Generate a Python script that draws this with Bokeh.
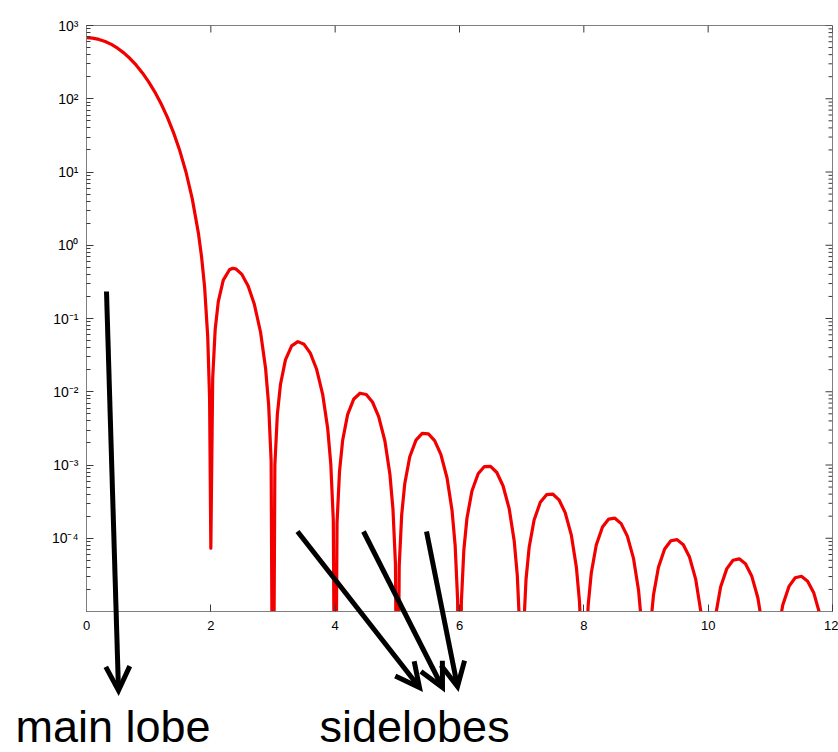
from bokeh.plotting import figure
from bokeh.models import FixedTicker, Range1d, Arrow, OpenHead, Label
from bokeh.layouts import column
from bokeh.embed import file_html
from bokeh.resources import INLINE

# ---------------- data ----------------
# main lobe (0 .. 2)
freq_main = [0.0, 0.1, 0.2, 0.3, 0.4, 0.5, 0.6, 0.7, 0.8, 0.9, 1.0, 1.1, 1.2,
             1.3, 1.4, 1.5, 1.6, 1.7, 1.8, 1.85, 1.9, 1.95, 1.98, 2.0]
power_main = [680.0, 671.3, 645.7, 605.1, 552.0, 489.9, 422.6, 353.8, 287.0,
              225.0, 170.0, 123.3, 85.39, 56.05, 34.50, 19.60, 10.00, 4.368,
              1.464, 0.7070, 0.2675, 0.05646, 0.008124, 7.3e-5]

# sidelobes (2 .. 12)
freq_side = [
    2.03, 2.07, 2.12, 2.2, 2.3, 2.35, 2.4, 2.5, 2.6, 2.7, 2.8, 2.88, 2.93, 2.97, 3.0,
    3.03, 3.07, 3.12, 3.2, 3.3, 3.4, 3.5, 3.6, 3.7, 3.8, 3.88, 3.93, 3.97, 4.0,
    4.03, 4.07, 4.12, 4.2, 4.3, 4.4, 4.5, 4.6, 4.7, 4.8, 4.88, 4.93, 4.97, 5.0,
    5.03, 5.07, 5.12, 5.2, 5.3, 5.4, 5.5, 5.6, 5.7, 5.8, 5.88, 5.93, 5.97, 6.0,
    6.03, 6.07, 6.12, 6.2, 6.3, 6.4, 6.5, 6.6, 6.7, 6.8, 6.88, 6.93, 6.97, 7.0,
    7.03, 7.07, 7.12, 7.2, 7.3, 7.4, 7.5, 7.6, 7.7, 7.8, 7.88, 7.93, 7.97, 8.0,
    8.03, 8.07, 8.12, 8.2, 8.3, 8.4, 8.5, 8.6, 8.7, 8.8, 8.88, 8.93, 8.97, 9.0,
    9.03, 9.07, 9.12, 9.2, 9.3, 9.4, 9.5, 9.6, 9.7, 9.8, 9.88, 9.93, 9.97, 10.0,
    10.03, 10.07, 10.12, 10.2, 10.3, 10.4, 10.5, 10.6, 10.7, 10.8, 10.88, 10.93, 10.97, 11.0,
    11.03, 11.07, 11.12, 11.2, 11.3, 11.4, 11.5, 11.6, 11.7, 11.8, 11.88, 11.93, 11.97, 12.0,
]
power_side = [
    0.015202, 0.070908, 0.17012, 0.33353, 0.46319, 0.48426, 0.47752, 0.39996,
    0.27787, 0.15635, 0.064897, 0.021155, 0.0066381, 0.0011309, 1e-8,
    9.9302e-4, 4.9008e-3, 0.012572, 0.027227, 0.042336, 0.048344, 0.044440,
    0.033617, 0.020455, 9.1261e-3, 3.1398e-3, 1.0174e-3, 1.7768e-4, 1e-8,
    1.6174e-4, 8.1699e-4, 2.1554e-3, 4.8735e-3, 7.9726e-3, 9.5498e-3, 9.1818e-3,
    7.2465e-3, 4.5896e-3, 2.1269e-3, 7.5323e-4, 2.4837e-4, 4.3975e-5, 1e-8,
    4.0839e-5, 2.0898e-4, 5.6021e-4, 1.2983e-3, 2.1876e-3, 2.6951e-3, 2.6622e-3,
    2.1560e-3, 1.3997e-3, 6.6420e-4, 2.3956e-4, 7.9876e-5, 1.4267e-5, 1e-8,
    1.3420e-5, 6.9255e-5, 1.8757e-4, 4.4177e-4, 7.5903e-4, 9.5281e-4, 9.5838e-4,
    7.8983e-4, 5.2149e-4, 2.5153e-4, 9.1876e-5, 3.0872e-5, 5.5478e-6, 1e-8,
    5.2660e-6, 2.7335e-5, 7.4577e-5, 1.7765e-4, 3.0949e-4, 3.9377e-4, 4.0126e-4,
    3.3490e-4, 2.2386e-4, 1.0926e-4, 4.0283e-5, 1.3614e-5, 2.4574e-6, 1e-8,
    2.3482e-6, 1.2243e-5, 3.3583e-5, 8.0682e-5, 1.4202e-4, 1.8254e-4, 1.8785e-4,
    1.5829e-4, 1.0680e-4, 5.2607e-5, 1.9534e-5, 6.6305e-6, 1.2011e-6, 1e-8,
    1.1536e-6, 6.0348e-6, 1.6623e-5, 4.0201e-5, 7.1342e-5, 9.2414e-5, 9.5840e-5,
    8.1372e-5, 5.5307e-5, 2.7440e-5, 1.0247e-5, 3.4901e-6, 6.3397e-7, 1e-8,
    6.1139e-7, 3.2070e-6, 8.8638e-6, 2.1550e-5, 3.8488e-5, 5.0176e-5, 5.2359e-5,
    4.4725e-5, 3.0581e-5, 1.5261e-5, 5.7250e-6, 1.9555e-6, 3.5600e-7, 1e-8,
    3.4448e-7, 1.8110e-6, 5.0189e-6, 1.2255e-5, 2.2003e-5, 2.8834e-5, 3.0242e-5,
    2.5963e-5, 1.7840e-5, 8.9457e-6, 3.3686e-6, 1.1534e-6, 2.1037e-7, 1e-8,
]

x_ticks = [0, 2, 4, 6, 8, 10, 12]
y_ticks = [1e-4, 1e-3, 1e-2, 1e-1, 1e0, 1e1, 1e2, 1e3]
y_tick_labels = ["10⁻⁴", "10⁻³", "10⁻²", "10⁻¹", "10⁰", "10¹", "10²", "10³"]

annotation_texts = ["main lobe", "sidelobes"]

# ---------------- chart ----------------
W, H = 838, 752
FONT = "Liberation Sans"
AXIS_GRAY = "#7f7f7f"
TICK_COLOR = "#3a3a3a"
X0, X1, Y0, Y1 = 0, 12, 1e-5, 1e3
PX_PER_X = 746 / 12.0
PX_PER_DECADE = 586 / 8.0

p = figure(width=W, height=H, y_axis_type="log",
           x_range=Range1d(X0, X1), y_range=Range1d(Y0, Y1),
           output_backend="svg", toolbar_location=None,
           min_border_left=86, min_border_right=6,
           min_border_top=25, min_border_bottom=141)
p.frame_align = False
p.grid.visible = False
p.outline_line_color = AXIS_GRAY
p.background_fill_color = "white"
p.border_fill_color = "white"

minor_y = [k * 10.0 ** e for e in range(-5, 3) for k in range(2, 10)]


def style_axis(ax):
    ax.axis_line_color = AXIS_GRAY
    ax.major_tick_in = 7
    ax.major_tick_out = 0
    ax.minor_tick_in = 4
    ax.minor_tick_out = 0
    ax.major_tick_line_color = TICK_COLOR
    ax.minor_tick_line_color = TICK_COLOR
    ax.major_label_text_font = FONT
    ax.major_label_text_color = "black"
    ax.major_label_text_font_size = "13px"


xa = p.xaxis[0]
xa.ticker = FixedTicker(ticks=x_ticks)
style_axis(xa)
xa.major_label_standoff = 9

ya = p.yaxis[0]
ya.ticker = FixedTicker(ticks=y_ticks, minor_ticks=minor_y)
ya.major_label_overrides = {v: s for v, s in zip(y_ticks, y_tick_labels)}
style_axis(ya)
ya.major_label_text_font_size = "14px"
ya.major_label_standoff = 8

# mirrored tick marks on the top and right frame edges
top_len = 10 ** (7 / PX_PER_DECADE)
p.segment(x0=x_ticks, y0=[Y1] * len(x_ticks), x1=x_ticks,
          y1=[Y1 / top_len] * len(x_ticks), line_color=TICK_COLOR, line_width=1)
p.segment(x0=[X1] * len(y_ticks), y0=y_ticks,
          x1=[X1 - 7 / PX_PER_X] * len(y_ticks), y1=y_ticks,
          line_color=TICK_COLOR, line_width=1)
p.segment(x0=[X1] * len(minor_y), y0=minor_y,
          x1=[X1 - 4 / PX_PER_X] * len(minor_y), y1=minor_y,
          line_color=TICK_COLOR, line_width=1)

p.line(freq_main + freq_side, power_main + power_side,
       line_color="#f20000", line_width=3.2, line_join="round")

# ---------------- transparent overlay for arrows and captions ----------------
q = figure(width=W, height=H, x_range=Range1d(0, W), y_range=Range1d(H, 0),
           output_backend="svg", toolbar_location=None,
           min_border_left=0, min_border_right=0,
           min_border_top=0, min_border_bottom=0)
q.frame_align = False
q.axis.visible = False
q.grid.visible = False
q.outline_line_color = None
q.background_fill_color = None
q.border_fill_color = None
q.styles = {"position": "absolute", "top": "0px", "left": "0px"}

arrow_defs = [
    (106, 291, 118, 690),
    (297, 531, 419, 687),
    (363, 531, 442, 687),
    (426, 531, 457, 686),
]
for xs, ys, xe, ye in arrow_defs:
    q.add_layout(Arrow(end=OpenHead(size=24, line_width=5, line_color="black",
                                    line_join="miter"),
                       x_start=xs, y_start=ys, x_end=xe, y_end=ye,
                       line_width=5, line_color="black"))

for txt, lx in zip(annotation_texts, [15, 319]):
    q.add_layout(Label(x=lx, y=700, text=txt, text_font=FONT,
                       text_font_size="45px", text_color="black",
                       text_baseline="top", text_align="left"))

layout = column(p, q, styles={"position": "relative"})
open("out.html", "w").write(file_html(layout, INLINE))
